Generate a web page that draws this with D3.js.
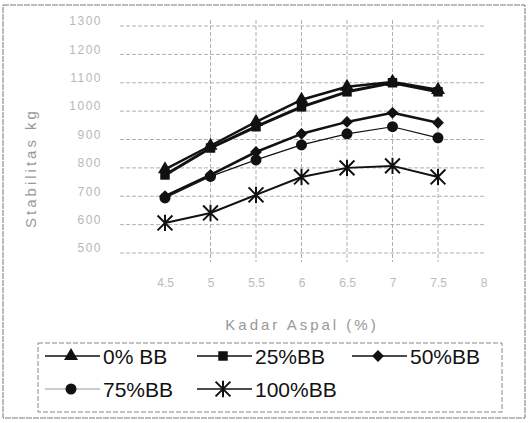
<!DOCTYPE html>
<html><head><meta charset="utf-8">
<script src="https://cdn.jsdelivr.net/npm/d3@7"></script>
<style>body{margin:0;background:#fff;}svg{display:block;font-family:"Liberation Sans",Arial,sans-serif;}</style>
</head><body><svg id="c" width="531" height="423"></svg>
<script>
const kadarAspal = [4.5, 5, 5.5, 6, 6.5, 7, 7.5];
const xTicks = [4.5, 5, 5.5, 6, 6.5, 7, 7.5, 8];
const yTicks = [500, 600, 700, 800, 900, 1000, 1100, 1200, 1300];
const seriesNames = ["0% BB", "25%BB", "50%BB", "75%BB", "100%BB"];
const bb0   = [795, 878, 962, 1040, 1086, 1103, 1075];
const bb25  = [775, 870, 945, 1015, 1068, 1100, 1068];
const bb50  = [700, 775, 856, 920, 962, 994, 959];
const bb75  = [694, 770, 828, 881, 920, 945, 906];
const bb100 = [606, 641, 705, 768, 800, 807, 768];
const yTitle = "Stabilitas kg";
const xTitle = "Kadar Aspal (%)";

const svg = d3.select("#c");
// outer frame
svg.append("rect").attr("x",3).attr("y",5).attr("width",522).attr("height",413)
  .attr("fill","none").attr("stroke","#777").attr("stroke-width",1).attr("stroke-dasharray","6,1");

const x = d3.scaleLinear().domain([4.5, 7.5]).range([165, 438]);
const y = d3.scaleLinear().domain([500, 1300]).range([253, 26]);

// gridlines
const g = svg.append("g");
g.selectAll("line.h").data(yTicks).join("line")
  .attr("x1",120).attr("x2",484).attr("y1",d=>y(d)).attr("y2",d=>y(d))
  .attr("stroke","#b0b0b0").attr("stroke-width",1).attr("stroke-dasharray","4,2");
g.selectAll("line.v").data(kadarAspal.slice(1)).join("line")
  .attr("x1",d=>x(d)).attr("x2",d=>x(d)).attr("y1",20).attr("y2",262)
  .attr("stroke","#b0b0b0").attr("stroke-width",1).attr("stroke-dasharray","4,2");

// axes (faint labels, no domain lines)
const yAxis = svg.append("g").attr("transform","translate(104,0)")
  .call(d3.axisLeft(y).tickValues(yTicks).tickSize(0).tickPadding(2).tickFormat(d3.format("d")));
yAxis.select(".domain").remove();
yAxis.selectAll("text").attr("fill","#b8b8b8").style("font-size","12px").attr("dy","-0.1em")
  .style("letter-spacing","1.5px").style("font-family","'Liberation Sans',Arial,sans-serif");

const xAxis = svg.append("g").attr("transform","translate(0,278)")
  .call(d3.axisBottom(x).tickValues(xTicks).tickSize(0).tickPadding(0).tickFormat(d3.format("")));
xAxis.select(".domain").remove();
xAxis.selectAll("text").attr("fill","#bbb").style("font-size","12px")
  .style("font-family","'Liberation Sans',Arial,sans-serif");

// titles
svg.append("text").attr("transform","translate(36,168) rotate(-90)").attr("text-anchor","middle")
  .attr("fill","#999").style("font-size","15px").style("letter-spacing","3px").text(yTitle);
svg.append("text").attr("x",302).attr("y",330).attr("text-anchor","middle")
  .attr("fill","#999").style("font-size","15px").style("letter-spacing","3px").text(xTitle);

// series
const asterisk = {draw(ctx, size){const r=Math.sqrt(size)/2;
  ctx.moveTo(-r,-r);ctx.lineTo(r,r);ctx.moveTo(-r,r);ctx.lineTo(r,-r);
  ctx.moveTo(0,-r*1.1);ctx.lineTo(0,r*1.1);}};
const series = [
  {name:seriesNames[0], vals:bb0,  sym:d3.symbolTriangle, size:85, lw:2.5, stroke:false},
  {name:seriesNames[1], vals:bb25, sym:d3.symbolSquare,   size:90, lw:3,   stroke:false},
  {name:seriesNames[2], vals:bb50, sym:d3.symbolDiamond2, size:90, lw:2.5, stroke:false},
  {name:seriesNames[3], vals:bb75, sym:d3.symbolCircle,   size:95, lw:1.2, stroke:false},
  {name:seriesNames[4], vals:bb100,sym:asterisk,          size:220,lw:2,   stroke:true}
];
const line = d3.line().x((d,i)=>x(kadarAspal[i])).y(d=>y(d));
function marker(sel, s){
  const p = sel.append("path").attr("d", d3.symbol(s.sym, s.size)());
  if (s.stroke) p.attr("fill","none").attr("stroke","#111").attr("stroke-width",2);
  else p.attr("fill","#111");
  return p;
}
series.forEach(s=>{
  svg.append("path").datum(s.vals).attr("d",line).attr("fill","none")
    .attr("stroke","#111").attr("stroke-width",s.lw).attr("stroke-linejoin","round");
  s.vals.forEach((v,i)=>{
    const gg = svg.append("g").attr("transform",`translate(${x(kadarAspal[i])},${y(v)})`);
    marker(gg, s);
  });
});

// legend
svg.append("rect").attr("x",38).attr("y",343).attr("width",464).attr("height",69)
  .attr("fill","none").attr("stroke","#888").attr("stroke-dasharray","5,2");
const legPos = [[45,356],[197,356],[352,356],[45,389],[197,389]];
series.forEach((s,i)=>{
  const [lx,ly] = legPos[i];
  svg.append("line").attr("x1",lx).attr("x2",lx+55).attr("y1",ly).attr("y2",ly)
    .attr("stroke", i===3 ? "#bbb" : "#111").attr("stroke-width",1.5);
  const gg = svg.append("g").attr("transform",`translate(${lx+26},${ly})`);
  marker(gg, s);
  svg.append("text").attr("x",lx+58).attr("y",ly).attr("dy","0.36em")
    .attr("fill","#111").style("font-size","21px").text(s.name);
});
</script></body></html>
